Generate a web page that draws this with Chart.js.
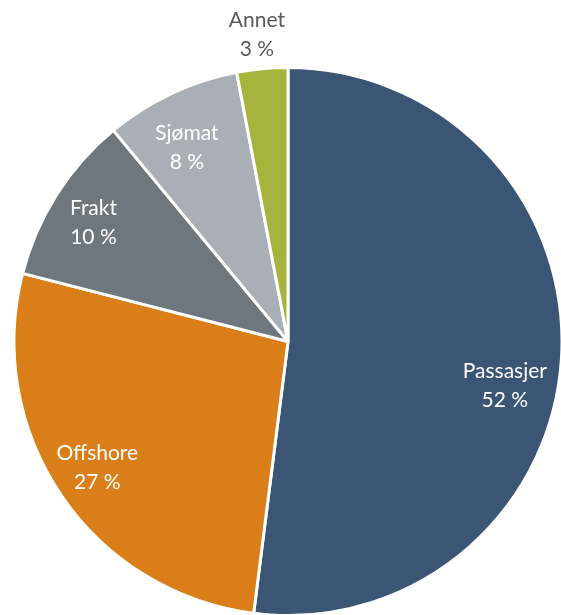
<!DOCTYPE html>
<html lang="no">
<head>
    <meta charset="UTF-8">
    <title>Fordeling</title>
    <script src="https://cdn.jsdelivr.net/npm/chart.js"></script>
    <style>
        html, body { margin: 0; padding: 0; background: #fff; overflow: hidden; }
        #wrap { width: 561px; height: 615px; position: relative; }
    </style>
</head>
<body>
<div id="wrap"><canvas id="pieChart"></canvas></div>

<script>
    const categories = ['Passasjer', 'Offshore', 'Frakt', 'Sjømat', 'Annet'];
    const shares = [52, 27, 10, 8, 3];
    const colors = ['#3b5674', '#d97e18', '#6e767e', '#a8afb6', '#a6b43e'];

    // labels drawn on top of each slice, the smallest one outside the pie
    const sliceLabels = {
        id: 'sliceLabels',
        afterDatasetsDraw(chart) {
            const ctx = chart.ctx;
            const meta = chart.getDatasetMeta(0);
            ctx.save();
            ctx.font = '21px Lato, "Open Sans", sans-serif';
            ctx.textAlign = 'center';
            ctx.textBaseline = 'middle';
            meta.data.forEach((arc, i) => {
                const p = arc.getProps(['x', 'y', 'startAngle', 'endAngle', 'outerRadius'], true);
                const mid = (p.startAngle + p.endAngle) / 2;
                const outside = shares[i] < 5;
                const r = p.outerRadius * (outside ? 1.128 : 0.815);
                let x = p.x + Math.cos(mid) * r - (outside ? 2 : 6);
                let y = p.y + Math.sin(mid) * r;
                if (i === 0) y += 30;
                if (i === 3) y += 8;
                ctx.fillStyle = outside ? '#595959' : '#ffffff';
                ctx.fillText(categories[i], x, y - 14);
                ctx.fillText(shares[i] + ' %', x, y + 15);
            });
            ctx.restore();
        }
    };

    new Chart(document.getElementById('pieChart'), {
        type: 'pie',
        data: {
            labels: categories,
            datasets: [{
                data: shares,
                backgroundColor: colors,
                borderColor: '#ffffff',
                borderWidth: 3,
                radius: 274
            }]
        },
        options: {
            responsive: true,
            maintainAspectRatio: false,
            animation: false,
            layout: { padding: { left: 15, top: 68, right: 0, bottom: 0 } },
            plugins: {
                legend: { display: false },
                tooltip: { enabled: false }
            }
        },
        plugins: [sliceLabels]
    });
</script>
</body>
</html>
